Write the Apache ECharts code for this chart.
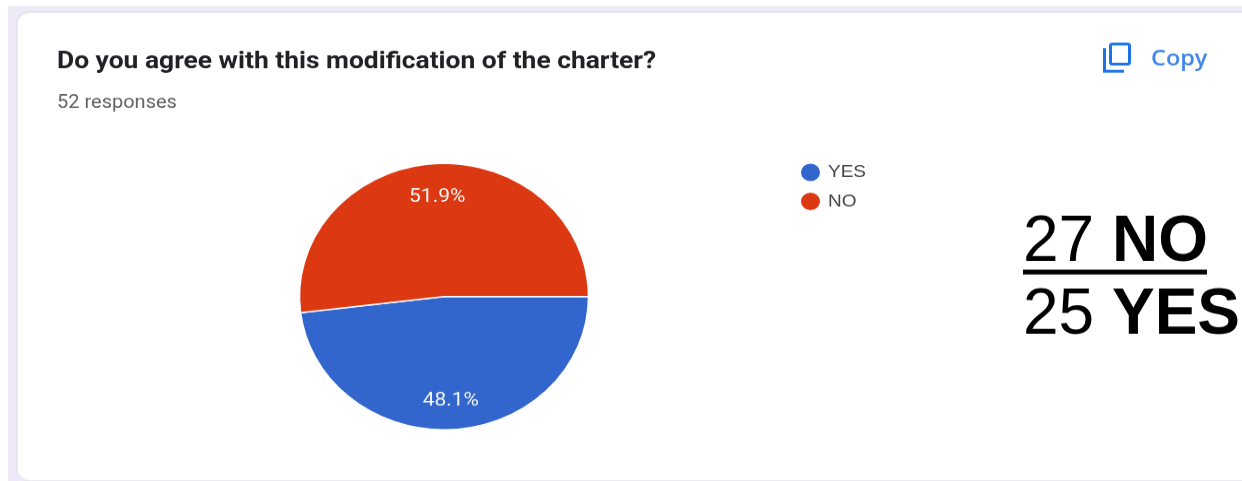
<!DOCTYPE html>
<html><head><meta charset="utf-8">
<style>html,body{margin:0;padding:0;background:#fff;overflow:hidden;width:1242px;height:481px}
#c{position:absolute;left:0;top:0;width:1242px;transform-origin:0 0}</style>
<script src="https://cdn.jsdelivr.net/npm/echarts@6/dist/echarts.min.js"></script>
</head><body><div id="c"></div>
<script>
const categories = ['YES', 'NO'];
const responses = [25, 27];
const colors = ['#3366cc', '#dc3912'];
const titleText = 'Do you agree with this modification of the charter?';
const subtitleText = '52 responses';
const copyText = 'Copy';

// reference is stretched horizontally: squash the canvas vertically
const k = 0.92;
const H = 481 / k;
const el = document.getElementById('c');
el.style.height = H + 'px';
el.style.transform = 'scaleY(' + k + ')';
const Y = v => v / k;
const chart = echarts.init(el, null, {renderer: 'canvas', width: 1242, height: H});
const data = categories.map((name, i) => ({name, value: responses[i], itemStyle: {color: colors[i]}}));
const cx = 444, cy = 296, R = 144.5;

chart.setOption({
  animation: false,
  backgroundColor: '#fff',
  legend: {
    left: 799, top: Y(161.5), padding: 0, orient: 'vertical', icon: 'circle', itemWidth: 21, itemHeight: 21, itemGap: 8.5,
    data: categories, selectedMode: false,
    textStyle: {fontFamily: '"Liberation Sans"', fontSize: 19, color: '#444', padding: [0, 0, 0, 2]}
  },
  series: [
    {type: 'pie', z: 3, center: [cx, Y(cy)], radius: [0, R], startAngle: 0, clockwise: true, silent: true,
     label: {show: false}, labelLine: {show: false}, data,
     itemStyle: {borderColor: '#fff', borderWidth: 1.5}},
    {type: 'pie', z: 4, center: [cx, Y(cy)], radius: [R * 0.52, R], startAngle: 0, clockwise: true, silent: true,
     labelLine: {show: false},
     data: data.map(d => ({name: d.name, value: d.value, itemStyle: {color: 'transparent'}})),
     itemStyle: {borderWidth: 0},
     labelLayout: p => ({dy: p.dataIndex === 1 ? 4.3 : 0}),
     label: {show: true, position: 'inside', formatter: p => p.percent.toFixed(1) + '%', fontFamily: 'Roboto', fontSize: 21, color: '#f4f4f4', fontWeight: 'normal'}}
  ],
  graphic: [
    {type: 'rect', z: -10, shape: {x: 8, y: Y(6), width: 1240, height: Y(480)}, style: {fill: '#ede9f7'}},
    {type: 'rect', z: -9, shape: {x: 17, y: Y(12), width: 1240, height: Y(468), r: 13}, style: {fill: '#fff', stroke: '#dfdfe6', lineWidth: 1.2}},
    {type: 'text', x: 57, y: Y(62), style: {text: titleText, font: 'bold 26.4px Roboto', fill: '#202124', textVerticalAlign: 'middle'}},
    {type: 'text', x: 57, y: Y(103), style: {text: subtitleText, font: '20px Roboto', fill: '#5f6368', textVerticalAlign: 'middle'}},
    {type: 'rect', shape: {x: 1110.5, y: Y(44), width: 19, height: Y(20), r: 2}, style: {fill: 'none', stroke: '#1a73e8', lineWidth: 3}},
    {type: 'polyline', shape: {points: [[1104.5, Y(48)], [1104.5, Y(71)], [1124, Y(71)]]}, style: {fill: 'none', stroke: '#1a73e8', lineWidth: 3}},
    {type: 'text', x: 1151, y: Y(59), style: {text: copyText, font: '600 23.5px "Open Sans"', fill: '#4285e8', textVerticalAlign: 'middle'}},
    {type: 'group', children: [
      {type: 'text', x: 1023, y: Y(243), scaleY: 1 / k, style: {rich: {a: {font: '64px "Liberation Sans"', fill: '#000'}, b: {font: 'bold 64px "Liberation Sans"', fill: '#000'}}, text: '{a|' + responses[1] + ' }{b|' + categories[1] + '}', textVerticalAlign: 'middle'}},
      {type: 'text', x: 1023, y: Y(315), scaleY: 1 / k, style: {rich: {a: {font: '64px "Liberation Sans"', fill: '#000'}, b: {font: 'bold 64px "Liberation Sans"', fill: '#000'}}, text: '{a|' + responses[0] + ' }{b|' + categories[0] + '}', textVerticalAlign: 'middle'}},
      {type: 'rect', shape: {x: 1023, y: Y(269), width: 184, height: Y(5)}, style: {fill: '#000'}}
    ]}
  ]
});
</script></body></html>
